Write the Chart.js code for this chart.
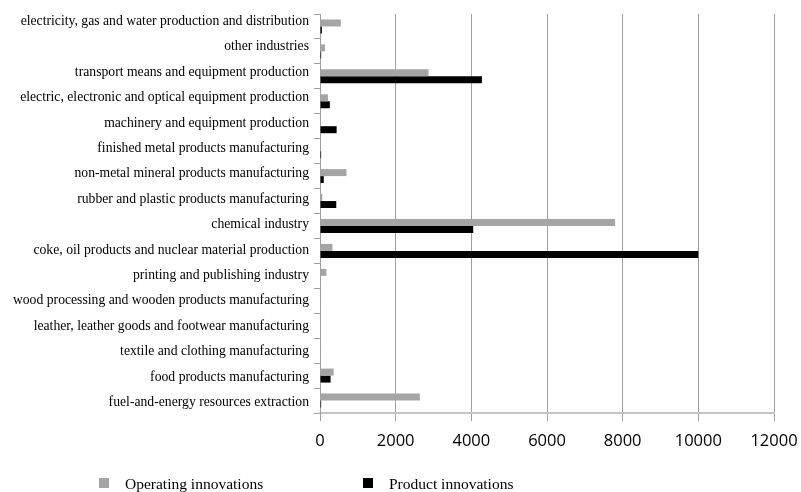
<!DOCTYPE html>
<html><head><meta charset="utf-8">
<script src="https://cdn.jsdelivr.net/npm/chart.js@4/dist/chart.umd.min.js"></script>
<style>
html,body{margin:0;padding:0;background:#fff;}
#wrap{position:relative;width:801px;height:492px;}
#legend{position:absolute;top:476px;left:0;width:801px;height:16px;font-family:"Liberation Serif","Times New Roman",serif;font-size:15.5px;color:#000;}
.li{position:absolute;top:0;line-height:16px;white-space:nowrap;}
.sw{position:absolute;top:2px;width:10px;height:10px;}
</style></head>
<body>
<div id="wrap"><canvas id="c" width="801" height="492"></canvas>
<div id="legend"></div></div>
<script>
const categories = [
  "electricity, gas and water production and distribution",
  "other industries",
  "transport means and equipment production",
  "electric, electronic and optical equipment production",
  "machinery and equipment production",
  "finished metal products manufacturing",
  "non-metal mineral products manufacturing",
  "rubber and plastic products manufacturing",
  "chemical industry",
  "coke, oil products and nuclear material production",
  "printing and publishing industry",
  "wood processing and wooden products manufacturing",
  "leather, leather goods and footwear manufacturing",
  "textile and clothing manufacturing",
  "food products manufacturing",
  "fuel-and-energy resources extraction"
];
const operatingInnovations = [550, 130, 2870, 210, 0, 20, 700, 60, 7800, 330, 170, 20, 0, 20, 360, 2640];
const productInnovations   = [50, 30, 4280, 260, 440, 30, 100, 430, 4050, 10000, 0, 0, 0, 0, 280, 30];
const xTicks = [0, 2000, 4000, 6000, 8000, 10000, 12000];
const seriesNames = ["Operating innovations", "Product innovations"];
const seriesColors = ["#a5a5a5", "#000000"];

const chart = new Chart(document.getElementById('c'), {
  type: 'bar',
  data: {
    labels: categories,
    datasets: [
      {label: seriesNames[0], data: operatingInnovations, backgroundColor: seriesColors[0], categoryPercentage: 0.56, barPercentage: 1.0},
      {label: seriesNames[1], data: productInnovations, backgroundColor: seriesColors[1], categoryPercentage: 0.56, barPercentage: 1.0}
    ]
  },
  options: {
    indexAxis: 'y',
    responsive: false,
    animation: false,
    layout: {padding: {top: 14, right: 27, left: 0, bottom: 0}},
    plugins: {legend: {display: false}, tooltip: {enabled: false}},
    scales: {
      x: {
        min: 0, max: 12000,
        afterBuildTicks: s => { s.ticks = xTicks.map(v => ({value: v})); },
        afterFit: s => { s.height = 79; s.paddingLeft = 0; s.paddingRight = 0; },
        grid: {color: '#a0a0a0', lineWidth: 1, tickLength: 8, drawTicks: true},
        border: {display: true, color: '#c4c4c4', width: 2},
        ticks: {color: '#000', padding: 10, maxRotation: 0,
          callback: v => String(v),
          font: {family: "'Open Sans','DejaVu Sans Condensed',sans-serif", size: 16.5}}
      },
      y: {
        position: 'left',
        weight: 0,
        afterFit: s => { s.width = 6; },
        grid: {drawOnChartArea: false, drawTicks: true, tickLength: 6, color: '#a0a0a0', offset: true},
        border: {display: true, color: '#a0a0a0', width: 1},
        ticks: {display: false}
      },
      yLabels: {
        type: 'linear',
        position: 'left',
        weight: 1,
        offset: false,
        reverse: true,
        min: -0.295, max: 15.414,
        afterBuildTicks: s => { s.ticks = categories.map((c, i) => ({value: i})); },
        afterFit: s => { s.width = 314; s.paddingTop = 0; s.paddingBottom = 0; },
        grid: {display: false, drawTicks: false, offset: false},
        border: {display: false},
        ticks: {color: '#000', padding: 5, autoSkip: false,
          callback: v => categories[v],
          font: {family: "'Liberation Serif','Times New Roman',serif", size: 13.7}}
      }
    }
  }
});

const leg = document.getElementById('legend');
const legPos = [[99, 125], [363, 389]];
seriesNames.forEach((n, i) => {
  const sw = document.createElement('div');
  sw.className = 'sw'; sw.style.left = legPos[i][0] + 'px'; sw.style.background = seriesColors[i];
  const t = document.createElement('div');
  t.className = 'li'; t.style.left = legPos[i][1] + 'px'; t.textContent = n;
  leg.appendChild(sw); leg.appendChild(t);
});
</script>
</body></html>
